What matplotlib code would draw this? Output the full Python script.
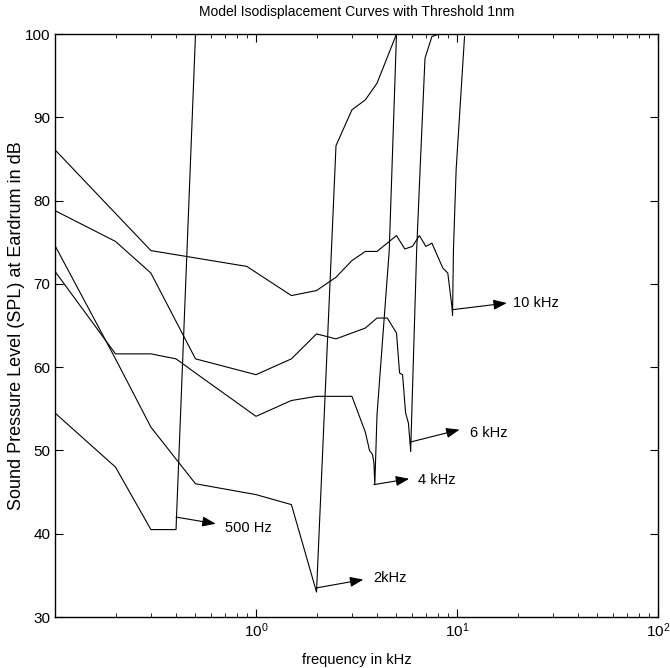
import matplotlib
matplotlib.use('Agg')
import matplotlib.pyplot as plt
from matplotlib.ticker import LogLocator, NullFormatter, FixedLocator

plt.rcParams['font.family'] = ['Liberation Sans', 'DejaVu Sans']

# tuning curves, frequency in kHz / SPL in dB
freq_500 = [0.1, 0.2, 0.3, 0.4, 0.5]
spl_500 = [54.5, 48.0, 40.5, 40.5, 100.0]

freq_2k = [0.1, 0.2, 0.3, 0.5, 1.0, 1.5, 2.0, 2.5, 3.0, 3.5, 4.0, 5.0]
spl_2k = [74.6, 61.0, 52.8, 46.0, 44.7, 43.5, 33.0, 86.6, 90.9, 92.1, 94.1, 100.0]

freq_4k = [0.1, 0.2, 0.3, 0.4, 0.5, 1.0, 1.5, 2.0, 3.0, 3.5, 3.67, 3.8, 3.86, 3.9, 4.0, 4.6, 5.0]
spl_4k = [71.5, 61.6, 61.6, 61.0, 59.3, 54.1, 56.0, 56.5, 56.5, 52.2, 50.0, 49.5, 48.5, 45.9, 54.3, 74.0, 100.0]

freq_6k = [0.1, 0.2, 0.3, 0.5, 1.0, 1.5, 2.0, 2.5, 3.5, 4.0, 4.5, 5.0, 5.18, 5.36,
           5.55, 5.73, 5.84, 5.88, 6.3, 6.55, 6.93, 7.5, 7.92]
spl_6k = [78.8, 75.1, 71.3, 61.0, 59.1, 61.0, 64.0, 63.4, 64.7, 65.9, 65.9, 64.1, 59.3, 59.1,
          54.5, 53.3, 50.9, 49.9, 74.1, 83.7, 97.1, 99.7, 99.9]

freq_10k = [0.1, 0.3, 0.9, 1.5, 2.0, 2.5, 3.0, 3.5, 4.0, 5.0, 5.5, 6.0, 6.5, 7.0, 7.5,
            8.5, 9.0, 9.45, 9.5, 9.6, 9.9, 10.9]
spl_10k = [86.1, 74.0, 72.1, 68.6, 69.2, 70.8, 72.8, 73.9, 73.9, 75.8, 74.2, 74.5, 75.8, 74.5, 74.9,
           71.9, 71.3, 67.1, 66.2, 74.1, 83.7, 99.7]

curves = [(freq_500, spl_500), (freq_2k, spl_2k), (freq_4k, spl_4k),
          (freq_6k, spl_6k), (freq_10k, spl_10k)]

# labels with arrows pointing at each curve's tip
labels = ['500 Hz', '2kHz', '4 kHz', '6 kHz', '10 kHz']
arrow_start = [(0.40, 42.0), (2.0, 33.5), (3.86, 45.9), (5.84, 51.0), (9.45, 66.9)]
arrow_end = [(0.63, 41.2), (3.42, 34.5), (5.78, 46.6), (10.3, 52.5), (17.7, 67.7)]
text_pos = [(0.70, 40.7), (3.83, 34.7), (6.41, 46.5), (11.6, 52.1), (19.0, 67.7)]

fig = plt.figure(figsize=(6.7, 6.68), dpi=100)
ax = fig.add_axes([0.0821, 0.0763, 0.9, 0.8727])

for f, s in curves:
    ax.plot(f, s, color='k', lw=0.8)

for lab, p0, p1, pt in zip(labels, arrow_start, arrow_end, text_pos):
    ax.annotate('', xy=p1, xytext=p0,
                arrowprops=dict(arrowstyle='-|>,head_length=0.45,head_width=0.17',
                                color='k', lw=0.8, mutation_scale=18,
                                shrinkA=0, shrinkB=0))
    ax.text(pt[0], pt[1], lab, fontsize=10.5, va='center', ha='left')

ax.set_xscale('log')
ax.set_xlim(0.1, 100)
ax.set_ylim(30, 100)
ax.set_yticks(range(30, 101, 10))
ax.xaxis.set_major_locator(FixedLocator([1, 10, 100]))
ax.xaxis.set_minor_locator(LogLocator(base=10, subs=range(2, 10), numticks=20))
ax.xaxis.set_minor_formatter(NullFormatter())
ax.tick_params(which='both', direction='in', top=True, right=True, labelsize=11)
ax.tick_params(which='major', length=6)
ax.tick_params(which='minor', length=3)
for sp in ax.spines.values():
    sp.set_linewidth(1.0)

ax.set_title('Model Isodisplacement Curves with Threshold 1nm', fontsize=10, pad=13)
ax.set_xlabel('frequency in kHz', fontsize=10.5, labelpad=9)
ax.set_ylabel('Sound Pressure Level (SPL) at Eardrum in dB', fontsize=13, labelpad=0)

fig.savefig('out.png', dpi=100)
